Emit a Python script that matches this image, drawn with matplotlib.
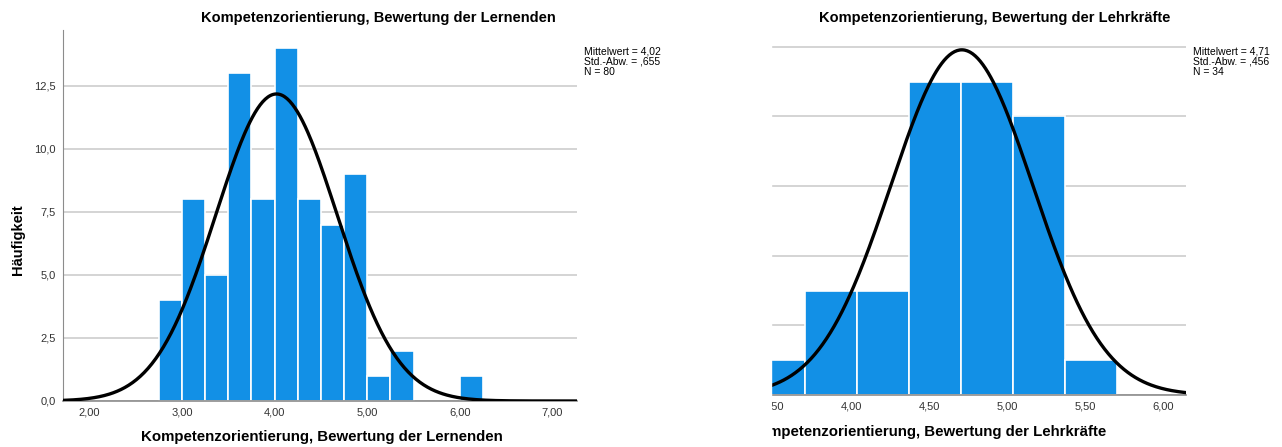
import numpy as np
import matplotlib.pyplot as plt
from matplotlib.patches import Rectangle

# Lernende: Klassen (linke Kante), Breite 0,25
lern_bins = [2.75, 3.00, 3.25, 3.50, 3.75, 4.00, 4.25, 4.50, 4.75, 5.00, 5.25, 6.00]
lern_counts = [4, 8, 5, 13, 8, 14, 8, 7, 9, 1, 2, 1]
lern_width = 0.25
lern_mean, lern_sd, lern_n = 4.02, 0.655, 80

# Lehrkräfte: Klassen (linke Kante), Breite 1/3
lehr_bins = [3.370, 3.703, 4.037, 4.370, 4.703, 5.037, 5.370]
lehr_counts = [1, 3, 3, 9, 9, 8, 1]
lehr_width = 0.3333
lehr_mean, lehr_sd, lehr_n = 4.71, 0.456, 34

lern_xticks = [2, 3, 4, 5, 6, 7]
lern_xlabels = ['2,00', '3,00', '4,00', '5,00', '6,00', '7,00']
lern_yticks = [0, 2.5, 5, 7.5, 10, 12.5]
lern_ylabels = ['0,0', '2,5', '5,0', '7,5', '10,0', '12,5']
lehr_xticks = [3.5, 4.0, 4.5, 5.0, 5.5, 6.0]
lehr_xlabels = ['3,50', '4,00', '4,50', '5,00', '5,50', '6,00']
lehr_yticks = [0, 2, 4, 6, 8, 10]

plt.rcParams['font.family'] = ['Liberation Sans', 'DejaVu Sans']

W, H = 1282, 447
fig = plt.figure(figsize=(W / 100, H / 100), dpi=100)


def box(x0, y0, x1, y1):
    return [x0 / W, 1 - y1 / H, (x1 - x0) / W, (y1 - y0) / H]


BLUE = '#1290e6'
GRID = '#d4d4d4'
SPINE = '#8c8c8c'
TXT = '#333333'


def histo(ax, bins, counts, width, mean, sd, n):
    ax.set_axisbelow(True)
    ax.grid(axis='y', color=GRID, lw=1.4)
    ax.bar(bins, counts, width=width, align='edge', color=BLUE,
           edgecolor='white', lw=1.2, zorder=2)
    x0, x1 = ax.get_xlim()
    xs = np.linspace(x0, x1, 400)
    ys = n * width / (sd * np.sqrt(2 * np.pi)) * np.exp(-0.5 * ((xs - mean) / sd) ** 2)
    ax.plot(xs, ys, color='black', lw=2.4, zorder=3)
    for s in ['top', 'right']:
        ax.spines[s].set_visible(False)
    ax.spines['bottom'].set_color(SPINE)
    ax.spines['bottom'].set_linewidth(1.2)
    ax.spines['left'].set_color(SPINE)
    ax.tick_params(length=0, labelsize=8, labelcolor=TXT, pad=5)


# linkes Diagramm
ax1 = fig.add_axes(box(63, 30, 577, 401))
ax1.set_xlim(1.715, 7.265)
ax1.set_ylim(0, 14.72)
ax1.set_xticks(lern_xticks, lern_xlabels)
ax1.set_yticks(lern_yticks, lern_ylabels)
histo(ax1, lern_bins, lern_counts, lern_width, lern_mean, lern_sd, lern_n)

# rechtes Diagramm (im Original links abgeschnitten)
ax2 = fig.add_axes(box(670, 19, 1186, 395))
ax2.set_xlim(2.838, 6.148)
ax2.set_ylim(0, 10.8)
ax2.set_xticks(lehr_xticks, lehr_xlabels)
ax2.set_yticks(lehr_yticks)
histo(ax2, lehr_bins, lehr_counts, lehr_width, lehr_mean, lehr_sd, lehr_n)
ax2.tick_params(labelleft=False)

fig.text(378 / W, 1 - 18 / H, 'Kompetenzorientierung, Bewertung der Lernenden',
         ha='center', va='center', fontsize=10.5, fontweight='bold')
fig.text(995 / W, 1 - 18 / H, 'Kompetenzorientierung, Bewertung der Lehrkräfte',
         ha='center', va='center', fontsize=10.5, fontweight='bold')
fig.text(322 / W, 1 - 437 / H, 'Kompetenzorientierung, Bewertung der Lernenden',
         ha='center', va='center', fontsize=10.8, fontweight='bold')
fig.text(927 / W, 1 - 432 / H, 'Kompetenzorientierung, Bewertung der Lehrkräfte',
         ha='center', va='center', fontsize=10.8, fontweight='bold')
fig.text(18 / W, 1 - 240 / H, 'Häufigkeit', rotation=90,
         ha='center', va='center', fontsize=10.5, fontweight='bold')

fig.text(584 / W, 1 - 46 / H, 'Mittelwert = 4,02\nStd.-Abw. = ,655\nN = 80',
         ha='left', va='top', fontsize=7.5, linespacing=1.05)
fig.text(1193 / W, 1 - 46 / H, 'Mittelwert = 4,71\nStd.-Abw. = ,456\nN = 34',
         ha='left', va='top', fontsize=7.5, linespacing=1.05)

# Beschnitt des rechten Screenshots
fig.add_artist(Rectangle((669 / W, 0), 102 / W, 1, transform=fig.transFigure,
                         color='white', zorder=10))

fig.savefig('out.png', dpi=100)
